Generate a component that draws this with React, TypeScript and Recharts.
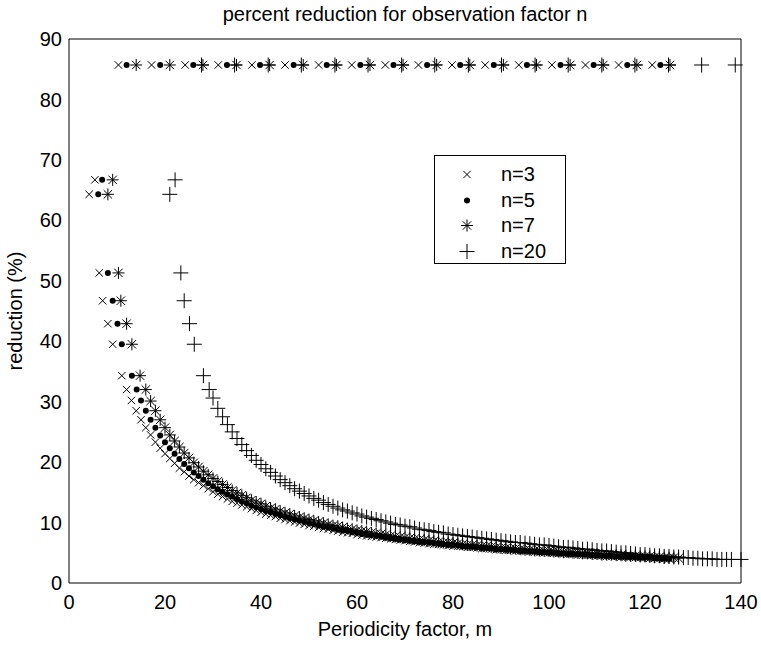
import React from 'react';
import { ScatterChart, Scatter, XAxis, YAxis, Legend } from 'recharts';

const FONT = '"Liberation Sans", Arial, Helvetica, sans-serif';
const INK = '#000';
const TXT = 20;

const xTicks = [0, 20, 40, 60, 80, 100, 120, 140];
const yTicks = [0, 10, 20, 30, 40, 50, 60, 70, 80, 90];

// flat row of points at the top of the plot
const topReduction = 85.7;
const topM3 = [10.3, 17.2, 24.2, 31.1, 38.1, 45.0, 52.0, 58.9, 65.9, 72.8, 79.8, 86.7, 93.7, 100.6, 107.6, 114.5, 121.5];
const topM5 = [12.0, 19.0, 25.9, 32.9, 39.8, 46.8, 53.7, 60.7, 67.6, 74.6, 81.5, 88.5, 95.4, 102.4, 109.3, 116.3, 123.2];
const topM7 = [14.0, 21.0, 27.9, 34.9, 41.8, 48.8, 55.7, 62.7, 69.6, 76.6, 83.5, 90.5, 97.4, 104.4, 111.3, 118.3, 125.2];
const topM20 = [27.6, 34.5, 41.5, 48.4, 55.4, 62.3, 69.3, 76.2, 83.2, 90.1, 97.1, 104.0, 111.0, 117.9, 124.9, 131.8, 138.8];

// first widely spaced points, same reduction levels in every series
const firstSteps = [64.3, 66.7, 51.3, 46.7, 42.9, 39.5, 34.3, 32.0];
const firstM3 = [4.2, 5.4, 6.3, 7.0, 8.1, 9.1, 11.0, 12.0];
const firstM5 = [6.1, 6.9, 8.1, 9.1, 10.1, 11.0, 13.1, 14.1];
const firstM7 = [8.1, 9.1, 10.3, 10.8, 12.0, 13.1, 14.8, 16.0];
const firstM20 = [21.0, 22.1, 23.3, 24.0, 25.1, 26.1, 28.0, 29.2];

// dense part of each curve, one point per m from the start value
const tailStart3 = 13;
const tail3 = [
  30.2, 28.5, 27.0, 25.7, 24.5, 23.3, 22.3, 21.4, 20.6, 19.8,
  19.0, 18.4, 17.7, 17.1, 16.6, 16.1, 15.6, 15.1, 14.7, 14.3,
  13.9, 13.5, 13.2, 12.9, 12.6, 12.3, 12.0, 11.7, 11.4, 11.2,
  11.0, 10.7, 10.5, 10.3, 10.1, 9.9, 9.7, 9.5, 9.4, 9.2,
  9.0, 8.9, 8.7, 8.6, 8.4, 8.3, 8.2, 8.0, 7.9, 7.8,
  7.7, 7.6, 7.5, 7.4, 7.3, 7.2, 7.1, 7.0, 6.9, 6.8,
  6.7, 6.6, 6.5, 6.4, 6.4, 6.3, 6.2, 6.1, 6.1, 6.0,
  5.9, 5.9, 5.8, 5.7, 5.7, 5.6, 5.5, 5.5, 5.4, 5.4,
  5.3, 5.3, 5.2, 5.2, 5.1, 5.1, 5.0, 5.0, 4.9, 4.9,
  4.8, 4.8, 4.7, 4.7, 4.6, 4.6, 4.6, 4.5, 4.5, 4.4,
  4.4, 4.4, 4.3, 4.3, 4.3, 4.2, 4.2, 4.2, 4.1, 4.1,
  4.1, 4.0, 4.0,
];
const tailStart5 = 15;
const tail5 = [
  30.2, 28.5, 27.0, 25.7, 24.4, 23.3, 22.3, 21.4, 20.5, 19.7,
  19.0, 18.3, 17.7, 17.1, 16.5, 16.0, 15.5, 15.1, 14.7, 14.3,
  13.9, 13.5, 13.2, 12.8, 12.5, 12.2, 11.9, 11.7, 11.4, 11.2,
  10.9, 10.7, 10.5, 10.3, 10.1, 9.9, 9.7, 9.5, 9.3, 9.2,
  9.0, 8.8, 8.7, 8.6, 8.4, 8.3, 8.1, 8.0, 7.9, 7.8,
  7.7, 7.5, 7.4, 7.3, 7.2, 7.1, 7.0, 6.9, 6.8, 6.8,
  6.7, 6.6, 6.5, 6.4, 6.3, 6.3, 6.2, 6.1, 6.0, 6.0,
  5.9, 5.8, 5.8, 5.7, 5.6, 5.6, 5.5, 5.5, 5.4, 5.3,
  5.3, 5.2, 5.2, 5.1, 5.1, 5.0, 5.0, 4.9, 4.9, 4.8,
  4.8, 4.8, 4.7, 4.7, 4.6, 4.6, 4.5, 4.5, 4.5, 4.4,
  4.4, 4.3, 4.3, 4.3, 4.2, 4.2, 4.2, 4.1, 4.1, 4.1,
  4.0,
];
const tailStart7 = 17;
const tail7 = [
  30.1, 28.5, 27.0, 25.7, 24.5, 23.5, 22.5, 21.5, 20.7, 19.9,
  19.2, 18.5, 17.9, 17.3, 16.8, 16.3, 15.8, 15.3, 14.9, 14.5,
  14.1, 13.7, 13.4, 13.1, 12.7, 12.4, 12.2, 11.9, 11.6, 11.4,
  11.1, 10.9, 10.7, 10.5, 10.3, 10.1, 9.9, 9.7, 9.5, 9.4,
  9.2, 9.0, 8.9, 8.7, 8.6, 8.5, 8.3, 8.2, 8.1, 8.0,
  7.8, 7.7, 7.6, 7.5, 7.4, 7.3, 7.2, 7.1, 7.0, 6.9,
  6.8, 6.7, 6.7, 6.6, 6.5, 6.4, 6.3, 6.3, 6.2, 6.1,
  6.1, 6.0, 5.9, 5.8, 5.8, 5.7, 5.7, 5.6, 5.5, 5.5,
  5.4, 5.4, 5.3, 5.3, 5.2, 5.2, 5.1, 5.1, 5.0, 5.0,
  4.9, 4.9, 4.8, 4.8, 4.7, 4.7, 4.7, 4.6, 4.6, 4.5,
  4.5, 4.5, 4.4, 4.4, 4.4, 4.3, 4.3, 4.2, 4.2, 4.2,
  4.1,
];
const tailStart20 = 30;
const tail20 = [
  30.6, 28.9, 27.5, 26.2, 25.0, 23.9, 22.9, 21.9, 21.1, 20.3,
  19.6, 18.9, 18.3, 17.7, 17.1, 16.6, 16.1, 15.6, 15.2, 14.8,
  14.4, 14.0, 13.7, 13.3, 13.0, 12.7, 12.4, 12.1, 11.9, 11.6,
  11.4, 11.1, 10.9, 10.7, 10.5, 10.3, 10.1, 9.9, 9.7, 9.6,
  9.4, 9.3, 9.1, 8.9, 8.8, 8.7, 8.5, 8.4, 8.3, 8.1,
  8.0, 7.9, 7.8, 7.7, 7.6, 7.5, 7.4, 7.3, 7.2, 7.1,
  7.0, 6.9, 6.8, 6.7, 6.7, 6.6, 6.5, 6.4, 6.3, 6.3,
  6.2, 6.1, 6.0, 5.9, 5.9, 5.8, 5.7, 5.6, 5.6, 5.5,
  5.4, 5.3, 5.3, 5.2, 5.1, 5.0, 5.0, 4.9, 4.8, 4.7,
  4.7, 4.6, 4.5, 4.5, 4.4, 4.4, 4.3, 4.3, 4.2, 4.2,
  4.1, 4.1, 4.0, 4.0, 4.0, 3.9, 3.9, 3.9, 3.9,
];
const lastM20 = [140];
const lastV20 = [3.9];

type Pt = { m: number; v: number };
const build = (
  top: number[],
  first: number[],
  start: number,
  tail: number[],
  extraM: number[] = [],
  extraV: number[] = [],
): Pt[] => [
  ...top.map((m) => ({ m, v: topReduction })),
  ...first.map((m, i) => ({ m, v: firstSteps[i] })),
  ...tail.map((v, i) => ({ m: start + i, v })),
  ...extraM.map((m, i) => ({ m, v: extraV[i] })),
];

const data3 = build(topM3, firstM3, tailStart3, tail3);
const data5 = build(topM5, firstM5, tailStart5, tail5);
const data7 = build(topM7, firstM7, tailStart7, tail7);
const data20 = build(topM20, firstM20, tailStart20, tail20, lastM20, lastV20);

// matlab style markers
const XMark = ({ cx, cy }: any) => {
  const r = 3.7;
  return (
    <path
      d={`M${cx - r},${cy - r}L${cx + r},${cy + r}M${cx - r},${cy + r}L${cx + r},${cy - r}`}
      stroke={INK}
      strokeWidth={1}
      fill="none"
    />
  );
};
const DotMark = ({ cx, cy }: any) => <circle cx={cx} cy={cy} r={3} fill={INK} />;
const StarMark = ({ cx, cy }: any) => {
  const a = 6;
  const b = 4.2;
  return (
    <path
      d={`M${cx - a},${cy}H${cx + a}M${cx},${cy - a}V${cy + a}M${cx - b},${cy - b}L${cx + b},${cy + b}M${cx - b},${cy + b}L${cx + b},${cy - b}`}
      stroke={INK}
      strokeWidth={1}
      fill="none"
    />
  );
};
const PlusMark = ({ cx, cy }: any) => {
  const a = 7.5;
  return (
    <path
      d={`M${cx - a},${cy}H${cx + a}M${cx},${cy - a}V${cy + a}`}
      stroke={INK}
      strokeWidth={1}
      fill="none"
    />
  );
};

const series = [
  { name: 'n=3', Shape: XMark, data: data3 },
  { name: 'n=5', Shape: DotMark, data: data5 },
  { name: 'n=7', Shape: StarMark, data: data7 },
  { name: 'n=20', Shape: PlusMark, data: data20 },
];

const LegendBox = () => (
  <div
    style={{
      boxSizing: 'border-box',
      width: 132,
      height: 109,
      border: '1px solid #000',
      background: '#fff',
      paddingTop: 6,
      fontFamily: FONT,
    }}
  >
    {series.map((s) => (
      <div key={s.name} style={{ display: 'flex', alignItems: 'center', height: 25.5 }}>
        <svg width={66} height={25} style={{ display: 'block' }}>
          <s.Shape cx={32} cy={12.5} />
        </svg>
        <span style={{ fontSize: TXT, lineHeight: '25px', color: INK }}>{s.name}</span>
      </div>
    ))}
  </div>
);

const tickStyle = { fill: INK, fontSize: TXT, fontFamily: FONT };

const App = () => {
  return (
    <div
      style={{
        position: 'absolute',
        left: 0,
        top: 0,
        width: 761,
        height: 646,
        background: '#fff',
        fontFamily: FONT,
      }}
    >
      <ScatterChart width={761} height={646} margin={{ top: 39, right: 20, bottom: 0, left: 0 }}>
        <XAxis
          xAxisId="main"
          type="number"
          dataKey="m"
          domain={[0, 140]}
          ticks={xTicks}
          interval={0}
          height={63}
          tickLine={false}
          tickSize={0}
          tickMargin={12}
          axisLine={{ stroke: INK }}
          tick={tickStyle}
          label={{
            content: ({ viewBox }: any) => (
              <text
                x={viewBox.x + viewBox.width / 2}
                y={viewBox.y + 53}
                textAnchor="middle"
                fontSize={TXT}
                fontFamily={FONT}
                fill={INK}
              >
                Periodicity factor, m
              </text>
            ),
          }}
        />
        <XAxis
          xAxisId="bottomTicks"
          type="number"
          domain={[0, 140]}
          ticks={xTicks}
          interval={0}
          mirror
          tick={false}
          tickSize={7}
          tickLine={{ stroke: INK }}
          axisLine={false}
        />
        <XAxis
          xAxisId="top"
          orientation="top"
          type="number"
          domain={[0, 140]}
          ticks={xTicks}
          interval={0}
          mirror
          tick={false}
          tickSize={7}
          tickLine={{ stroke: INK }}
          axisLine={{ stroke: INK }}
        />
        <YAxis
          yAxisId="main"
          type="number"
          dataKey="v"
          domain={[0, 90]}
          ticks={yTicks}
          interval={0}
          width={69}
          tickLine={false}
          tickSize={0}
          tickMargin={7}
          axisLine={{ stroke: INK }}
          tick={tickStyle}
          label={{
            content: ({ viewBox }: any) => {
              const x = viewBox.x + 22;
              const y = viewBox.y + viewBox.height / 2;
              return (
                <text
                  x={x}
                  y={y}
                  transform={`rotate(-90 ${x} ${y})`}
                  textAnchor="middle"
                  fontSize={TXT}
                  fontFamily={FONT}
                  fill={INK}
                >
                  reduction (%)
                </text>
              );
            },
          }}
        />
        <YAxis
          yAxisId="leftTicks"
          type="number"
          domain={[0, 90]}
          ticks={yTicks}
          interval={0}
          mirror
          tick={false}
          tickSize={7}
          tickLine={{ stroke: INK }}
          axisLine={false}
        />
        <YAxis
          yAxisId="right"
          orientation="right"
          type="number"
          domain={[0, 90]}
          ticks={yTicks}
          interval={0}
          mirror
          tick={false}
          tickSize={7}
          tickLine={{ stroke: INK }}
          axisLine={{ stroke: INK }}
        />
        {series.map((s) => (
          <Scatter
            key={s.name}
            name={s.name}
            data={s.data}
            xAxisId="main"
            yAxisId="main"
            shape={(p: any) => <s.Shape cx={p.cx} cy={p.cy} />}
            isAnimationActive={false}
          />
        ))}
        <Legend
          layout="horizontal"
          verticalAlign="middle"
          align="center"
          wrapperStyle={{ left: 434, top: 155, width: 132, height: 109 }}
          content={() => <LegendBox />}
        />
      </ScatterChart>
      <div
        style={{
          position: 'absolute',
          left: 69,
          width: 672,
          top: 3,
          textAlign: 'center',
          fontSize: TXT,
          color: INK,
          lineHeight: '23px',
        }}
      >
        percent reduction for observation factor n
      </div>
    </div>
  );
}

export default App;
